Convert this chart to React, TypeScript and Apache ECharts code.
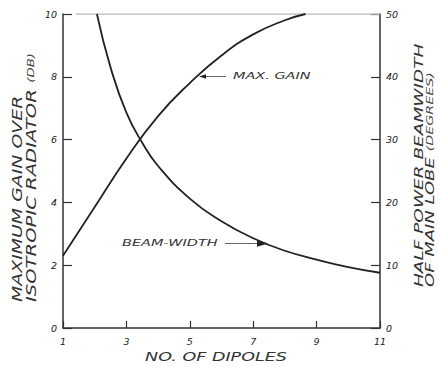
import React, { useEffect, useRef } from 'react';
import * as echarts from 'echarts';

// ---- data ----
const xMin = 1;
const xMax = 11;
const xStep = 2;
const gainMin = 0;
const gainMax = 10;
const gainStep = 2;
const beamMin = 0;
const beamMax = 50;
const beamStep = 10;

const gainN = [1, 2, 3, 4, 5, 6, 7, 8, 8.65];
const gainDb = [2.3, 3.85, 5.4, 6.75, 7.8, 8.68, 9.35, 9.8, 10];

const beamN = [2.07, 2.5, 3, 3.5, 4, 5, 6, 7, 8, 9, 10, 11];
const beamDeg = [50, 41.5, 34.3, 29.5, 25.8, 20.6, 17, 14.3, 12.3, 10.9, 9.7, 8.8];

const topRuleN = [1.4, 11];
const topRuleDb = [10, 10];

const xTitle = 'NO. OF DIPOLES';
const leftTitle1 = 'MAXIMUM GAIN OVER';
const leftTitle2 = 'ISOTROPIC RADIATOR ';
const leftUnit = '(DB)';
const rightTitle1 = 'HALF POWER BEAMWIDTH';
const rightTitle2 = 'OF MAIN LOBE ';
const rightUnit = '(DEGREES)';
const gainLabel = 'MAX. GAIN';
const beamLabel = 'BEAM-WIDTH';

const FONT = 'DejaVu Sans';
const INK = '#222';

export default function App() {
  const ref = useRef<HTMLDivElement>(null);

  useEffect(() => {
    document.body.style.margin = '0';
    if (!ref.current) return;
    const chart = echarts.init(ref.current, undefined, { renderer: 'svg' });

    const pair = (xs: number[], ys: number[]) => xs.map((x, i) => [x, ys[i]]);

    const tickLabel = {
      fontFamily: FONT,
      fontStyle: 'italic' as const,
      fontSize: 9.5,
      color: INK,
    };

    chart.setOption({
      animation: false,
      backgroundColor: '#fff',
      grid: {
        left: 63,
        right: 58,
        top: 14,
        bottom: 39,
        containLabel: false,
        outerBoundsMode: 'none',
      },
      xAxis: {
        type: 'value',
        min: xMin,
        max: xMax,
        interval: xStep,
        axisLine: { show: true, onZero: false, lineStyle: { color: '#333', width: 1.5 } },
        axisTick: { show: true, inside: true, length: 7, lineStyle: { color: '#333', width: 1.2 } },
        axisLabel: { ...tickLabel, margin: 8 },
        splitLine: { show: false },
      },
      yAxis: [
        {
          type: 'value',
          min: gainMin,
          max: gainMax,
          interval: gainStep,
          position: 'left',
          axisLine: { show: true, lineStyle: { color: '#333', width: 1.5 } },
          axisTick: { show: true, inside: true, length: 9, lineStyle: { color: '#333', width: 1.2 } },
          axisLabel: { ...tickLabel, margin: 6 },
          splitLine: { show: false },
        },
        {
          type: 'value',
          min: beamMin,
          max: beamMax,
          interval: beamStep,
          position: 'right',
          axisLine: { show: true, lineStyle: { color: '#333', width: 1.5 } },
          axisTick: { show: true, inside: true, length: 9, lineStyle: { color: '#333', width: 1.2 } },
          axisLabel: { ...tickLabel, margin: 6 },
          splitLine: { show: false },
        },
      ],
      series: [
        {
          type: 'line',
          yAxisIndex: 0,
          data: pair(topRuleN, topRuleDb),
          symbol: 'none',
          silent: true,
          lineStyle: { color: '#bbb', width: 1.5 },
        },
        {
          name: 'Max gain',
          type: 'line',
          yAxisIndex: 0,
          data: pair(gainN, gainDb),
          smooth: 0.5,
          symbol: 'none',
          lineStyle: { color: INK, width: 1.8 },
        },
        {
          name: 'Beam width',
          type: 'line',
          yAxisIndex: 1,
          data: pair(beamN, beamDeg),
          smooth: 0.5,
          symbol: 'none',
          lineStyle: { color: INK, width: 1.8 },
        },
      ],
      graphic: [
        // x axis title
        {
          type: 'text',
          x: 216,
          y: 357,
          scaleX: 1.35,
          style: {
            text: xTitle,
            fontFamily: FONT,
            fontStyle: 'italic',
            fontSize: 13,
            fill: '#333',
            align: 'center',
            verticalAlign: 'middle',
          },
        },
        // left titles
        {
          type: 'text',
          x: 17.5,
          y: 302,
          rotation: Math.PI / 2,
          scaleX: 1.35,
          style: {
            text: leftTitle1,
            fontFamily: FONT,
            fontStyle: 'italic',
            fontSize: 14,
            fill: '#333',
            align: 'left',
            verticalAlign: 'middle',
          },
        },
        {
          type: 'text',
          x: 31,
          y: 302,
          rotation: Math.PI / 2,
          scaleX: 1.4,
          style: {
            text: `{a|${leftTitle2}}{b|${leftUnit}}`,
            align: 'left',
            verticalAlign: 'middle',
            rich: {
              a: { fontFamily: FONT, fontStyle: 'italic', fontSize: 14, fill: '#333' },
              b: { fontFamily: FONT, fontStyle: 'italic', fontSize: 9.5, fill: '#444' },
            },
          },
        },
        // right titles
        {
          type: 'text',
          x: 418.5,
          y: 287,
          rotation: Math.PI / 2,
          scaleX: 1.42,
          style: {
            text: rightTitle1,
            fontFamily: FONT,
            fontStyle: 'italic',
            fontSize: 13,
            fill: '#333',
            align: 'left',
            verticalAlign: 'middle',
          },
        },
        {
          type: 'text',
          x: 430,
          y: 287,
          rotation: Math.PI / 2,
          scaleX: 1.5,
          style: {
            text: `{a|${rightTitle2}}{b|${rightUnit}}`,
            align: 'left',
            verticalAlign: 'middle',
            rich: {
              a: { fontFamily: FONT, fontStyle: 'italic', fontSize: 12, fill: '#333' },
              b: { fontFamily: FONT, fontStyle: 'italic', fontSize: 9.5, fill: '#444' },
            },
          },
        },
        // MAX. GAIN annotation
        {
          type: 'text',
          x: 233,
          y: 76.5,
          scaleX: 1.7,
          style: {
            text: gainLabel,
            fontFamily: FONT,
            fontStyle: 'italic',
            fontSize: 8.5,
            fill: '#333',
            align: 'left',
            verticalAlign: 'middle',
          },
        },
        {
          type: 'line',
          shape: { x1: 205, y1: 76.5, x2: 226, y2: 76.5 },
          style: { stroke: '#666', lineWidth: 1 },
        },
        {
          type: 'polygon',
          shape: { points: [[199, 76.5], [206, 74.3], [206, 78.7]] },
          style: { fill: INK },
        },
        // BEAM-WIDTH annotation
        {
          type: 'text',
          x: 122,
          y: 243.5,
          scaleX: 1.7,
          style: {
            text: beamLabel,
            fontFamily: FONT,
            fontStyle: 'italic',
            fontSize: 8.5,
            fill: '#333',
            align: 'left',
            verticalAlign: 'middle',
          },
        },
        {
          type: 'line',
          shape: { x1: 225, y1: 243.5, x2: 259, y2: 243.5 },
          style: { stroke: '#666', lineWidth: 1 },
        },
        {
          type: 'polygon',
          shape: { points: [[268, 243.5], [257, 240.3], [257, 246.7]] },
          style: { fill: INK },
        },
      ],
    });

    return () => {
      chart.dispose();
    };
  }, []);

  return <div ref={ref} style={{ width: 438, height: 367 }} />;
}
